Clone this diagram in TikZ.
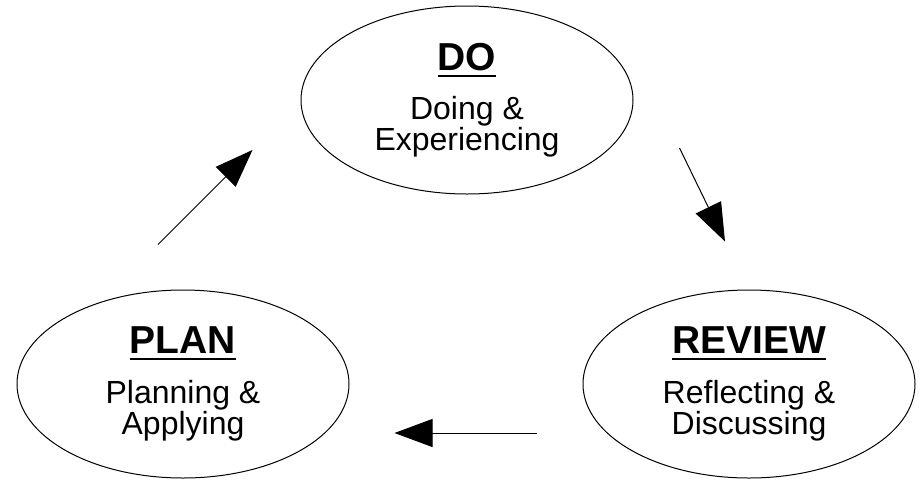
\documentclass[tikz,border=0pt]{standalone}
\usepackage{fontspec}
\setmainfont{Liberation Sans}
\usetikzlibrary{shapes.geometric, arrows.meta, positioning}
\tikzstyle{phase} = [ellipse, draw=black, line width=1pt, minimum width=332pt, minimum height=188pt, inner sep=0pt, align=center, font=\fontsize{32}{28}\selectfont]
\tikzstyle{arrow} = [line width=1pt, ->, >={Triangle[length=38pt, width=28pt]}]
\newcommand{\phasetitle}[1]{{\fontsize{39}{28}\selectfont\bfseries\setbox0=\hbox{#1}\rlap{\rule[-6.5pt]{\wd0}{2pt}}\box0}}

\begin{document}
\begin{tikzpicture}[node distance=284pt, on grid]
	\useasboundingbox (0,0) rectangle (923pt,-480pt);
	\node (do) [phase] at (467pt,-100pt) {\phasetitle{DO}\\[19pt] Doing \&\\ Experiencing};
	\node (plan) [phase, below left=284pt and 284pt of do] {\phasetitle{PLAN}\\[19pt] Planning \&\\ Applying};
	\node (review) [phase, right=566pt of plan] {\phasetitle{REVIEW}\\[19pt] Reflecting \&\\ Discussing};
	\draw [arrow] ([shift={(-25pt,45pt)}]plan.north) -- ([shift={(-48pt,-50pt)}]do.west);
	\draw [arrow] ([shift={(46pt,-48pt)}]do.east) -- ([shift={(-24pt,48pt)}]review.north);
	\draw [arrow] ([shift={(-46pt,-49pt)}]review.west) -- ([shift={(45pt,-49pt)}]plan.east);
\end{tikzpicture}
\end{document}
